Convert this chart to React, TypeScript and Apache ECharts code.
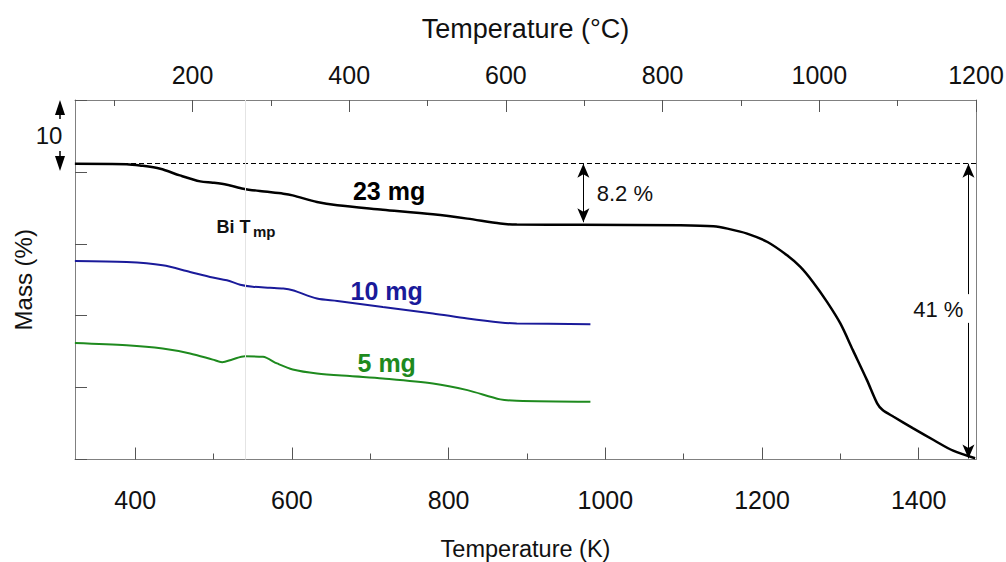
import React, { useEffect, useRef } from "react";
import * as echarts from "echarts";

// Temperature (K) and mass (% units, curves offset as in the figure)
const blackK = [323, 389, 406, 432, 457, 483, 499, 517, 538, 559, 589, 601, 632, 658, 716, 780, 824, 866, 887, 968, 1096, 1138, 1156, 1181, 1207, 1232, 1249, 1265, 1283, 1300, 1316, 1334, 1347, 1354, 1368, 1393, 1419, 1444, 1472];
const blackMass = [41.14, 41.08, 40.9, 40.44, 39.51, 38.68, 38.5, 38.22, 37.67, 37.33, 36.97, 36.74, 35.81, 35.35, 34.75, 34.1, 33.5, 32.81, 32.67, 32.64, 32.57, 32.43, 32.11, 31.42, 30.25, 28.4, 26.78, 24.69, 21.92, 18.92, 15.21, 11.04, 7.81, 6.88, 5.94, 4.33, 2.71, 1.22, 0.17];

const blueK = [323, 389, 435, 470, 499, 517, 534, 550, 572, 589, 601, 632, 658, 716, 780, 824, 866, 887, 981];
const blueMass = [27.61, 27.47, 27.01, 26.08, 25.31, 24.93, 24.31, 24.03, 23.89, 23.78, 23.54, 22.39, 22.06, 21.22, 20.31, 19.61, 19.06, 18.92, 18.82];

const greenK = [323, 389, 435, 470, 499, 511, 524, 540, 563, 581, 601, 632, 674, 716, 780, 824, 866, 887, 981];
const greenMass = [16.22, 15.9, 15.44, 14.75, 13.89, 13.54, 13.92, 14.35, 14.28, 13.36, 12.53, 11.97, 11.6, 11.28, 10.58, 9.65, 8.36, 8.17, 8.03];

const kMajorTicks = [400, 600, 800, 1000, 1200, 1400];
const kMinorTicks = [500, 700, 900, 1100, 1300];
const cMajorTicks = [200, 400, 600, 800, 1000, 1200];
const cMinorTicks = [100, 300, 500, 700, 900, 1100];

const kRange = [323.15, 1473.15];
const cRange = [50, 1200];

const initialMass = 41.14;
const arrow82 = { k: 972, from: 41.14, to: 33.0 };
const arrow41 = { k: 1463.5, from: 41.14, gapTop: 23.0, gapBottom: 19.0, to: 0.15 };
const biTmpK = 540;

const labels = [
  { text: "23 mg", k: 724, m: 37.33, color: "#000000", size: 25, bold: true },
  { text: "10 mg", k: 721, m: 23.44, color: "#1a1a9a", size: 25, bold: true },
  { text: "5 mg", k: 721, m: 13.4, color: "#1e8a1e", size: 25, bold: true },
  { text: "8.2 %", k: 1025, m: 37.06, color: "#111111", size: 22, bold: false },
  { text: "41 %", k: 1425, m: 20.86, color: "#111111", size: 22, bold: false },
  { text: "Bi T", k: 525.6, m: 32.32, color: "#111111", size: 18, bold: true },
  { text: "mp", k: 564.6, m: 31.69, color: "#111111", size: 15, bold: true },
];

const zip = (xs: number[], ys: number[]) => xs.map((x, i) => [x, ys[i]]);
const plain = (v: number) => String(Math.round(v));

const FONT = "Liberation Sans, Arial, sans-serif";
const AXIS_COLOR = "#808080";

export default function App() {
  const ref = useRef<HTMLDivElement>(null);
  useEffect(() => {
    if (!ref.current) return;
    const chart = echarts.init(ref.current, null, { renderer: "svg" });
    const option: any = {
      animation: false,
      backgroundColor: "#ffffff",
      textStyle: { fontFamily: FONT },
      grid: { left: 75, right: 30, top: 100, bottom: 102.5, containLabel: false, outerBoundsMode: "none" },
      xAxis: [
        {
          type: "value",
          position: "bottom",
          min: kRange[0],
          max: kRange[1],
          name: "Temperature (K)",
          nameLocation: "middle",
          nameGap: 77,
          nameTextStyle: { fontSize: 23.5, color: "#111", fontFamily: FONT },
          axisLine: { show: true, lineStyle: { color: AXIS_COLOR, width: 1 } },
          axisTick: { show: true, inside: true, length: 12, customValues: kMajorTicks, lineStyle: { color: "#555" } },
          axisLabel: { show: true, customValues: kMajorTicks, formatter: plain, fontSize: 25, color: "#111", margin: 28, fontFamily: FONT },
          splitLine: { show: false },
        },
        {
          type: "value",
          position: "bottom",
          min: kRange[0],
          max: kRange[1],
          axisLine: { show: false },
          axisTick: { show: true, inside: true, length: 6, customValues: kMinorTicks, lineStyle: { color: "#555" } },
          axisLabel: { show: false },
          splitLine: { show: false },
        },
        {
          type: "value",
          position: "top",
          min: cRange[0],
          max: cRange[1],
          name: "Temperature (°C)",
          nameLocation: "middle",
          nameGap: 58,
          nameTextStyle: { fontSize: 27, color: "#111", fontFamily: FONT },
          axisLine: { show: true, lineStyle: { color: AXIS_COLOR, width: 1 } },
          axisTick: { show: true, inside: true, length: 12, customValues: cMajorTicks, lineStyle: { color: "#555" } },
          axisLabel: { show: true, customValues: cMajorTicks, formatter: plain, fontSize: 25, color: "#111", margin: 13, fontFamily: FONT },
          splitLine: { show: false },
        },
        {
          type: "value",
          position: "top",
          min: cRange[0],
          max: cRange[1],
          axisLine: { show: false },
          axisTick: { show: true, inside: true, length: 6, customValues: cMinorTicks, lineStyle: { color: "#555" } },
          axisLabel: { show: false },
          splitLine: { show: false },
        },
      ],
      yAxis: [
        {
          type: "value",
          position: "left",
          min: 0,
          max: 50,
          interval: 10,
          name: "Mass (%)",
          nameLocation: "middle",
          nameGap: 40,
          nameRotate: 90,
          nameTextStyle: { fontSize: 24, color: "#111", fontFamily: FONT },
          axisLine: { show: true, lineStyle: { color: AXIS_COLOR, width: 1 } },
          axisTick: { show: true, inside: true, length: 12, lineStyle: { color: "#555" } },
          axisLabel: { show: false },
          splitLine: { show: false },
        },
        {
          type: "value",
          position: "right",
          min: 0,
          max: 50,
          axisLine: { show: true, lineStyle: { color: AXIS_COLOR, width: 1 } },
          axisTick: { show: false },
          axisLabel: { show: false },
          splitLine: { show: false },
        },
      ],
      series: [
        {
          name: "5 mg",
          type: "line",
          xAxisIndex: 0,
          yAxisIndex: 0,
          data: zip(greenK, greenMass),
          showSymbol: false,
          smooth: 0.3,
          lineStyle: { color: "#1e8a1e", width: 2 },
          z: 3,
        },
        {
          name: "10 mg",
          type: "line",
          xAxisIndex: 0,
          yAxisIndex: 0,
          data: zip(blueK, blueMass),
          showSymbol: false,
          smooth: 0.3,
          lineStyle: { color: "#1a1a9a", width: 2 },
          z: 3,
        },
        {
          name: "23 mg",
          type: "line",
          xAxisIndex: 0,
          yAxisIndex: 0,
          data: zip(blackK, blackMass),
          showSymbol: false,
          smooth: 0.3,
          lineStyle: { color: "#000000", width: 2.5 },
          z: 4,
          markLine: {
            silent: true,
            symbol: "none",
            label: { show: false },
            data: [
              [
                { coord: [kRange[0], initialMass], lineStyle: { type: [5, 3], color: "#000", width: 1.2 } },
                { coord: [kRange[1], initialMass] },
              ],
              [
                { coord: [biTmpK, 0], lineStyle: { type: "solid", color: "#e4e4e4", width: 1 } },
                { coord: [biTmpK, 50] },
              ],
              [
                { coord: [arrow82.k, arrow82.from], symbol: "arrow", lineStyle: { type: "solid", color: "#000", width: 1 } },
                { coord: [arrow82.k, arrow82.to], symbol: "arrow" },
              ],
              [
                { coord: [arrow41.k, arrow41.from], symbol: "arrow", lineStyle: { type: "solid", color: "#000", width: 1 } },
                { coord: [arrow41.k, arrow41.gapTop], symbol: "none" },
              ],
              [
                { coord: [arrow41.k, arrow41.gapBottom], symbol: "none", lineStyle: { type: "solid", color: "#000", width: 1 } },
                { coord: [arrow41.k, arrow41.to], symbol: "arrow" },
              ],
            ],
            symbolSize: [9, 14],
          },
          markPoint: {
            silent: true,
            symbol: "circle",
            symbolSize: 0,
            data: labels.map((l) => ({
              coord: [l.k, l.m],
              label: {
                show: true,
                position: "inside",
                formatter: l.text,
                fontSize: l.size,
                fontWeight: l.bold ? "bold" : "normal",
                color: l.color,
                fontFamily: FONT,
              },
            })),
          },
        },
      ],
      graphic: [
        { type: "polygon", shape: { points: [[60, 100], [55, 115], [65, 115]] }, style: { fill: "#000" } },
        { type: "line", shape: { x1: 60, y1: 114, x2: 60, y2: 119 }, style: { stroke: "#000", lineWidth: 1.5 } },
        { type: "polygon", shape: { points: [[60, 171], [55, 156], [65, 156]] }, style: { fill: "#000" } },
        { type: "line", shape: { x1: 60, y1: 151, x2: 60, y2: 157 }, style: { stroke: "#000", lineWidth: 1.5 } },
        {
          type: "text",
          x: 49,
          y: 135,
          style: { text: "10", fontSize: 24, fill: "#111", fontFamily: FONT, align: "center", verticalAlign: "middle" },
        },
      ],
    };
    chart.setOption(option);
    return () => chart.dispose();
  }, []);
  return (
    <div
      ref={ref}
      style={{ position: "fixed", left: 0, top: 0, width: 1006, height: 562, background: "#fff" }}
    />
  );
}
